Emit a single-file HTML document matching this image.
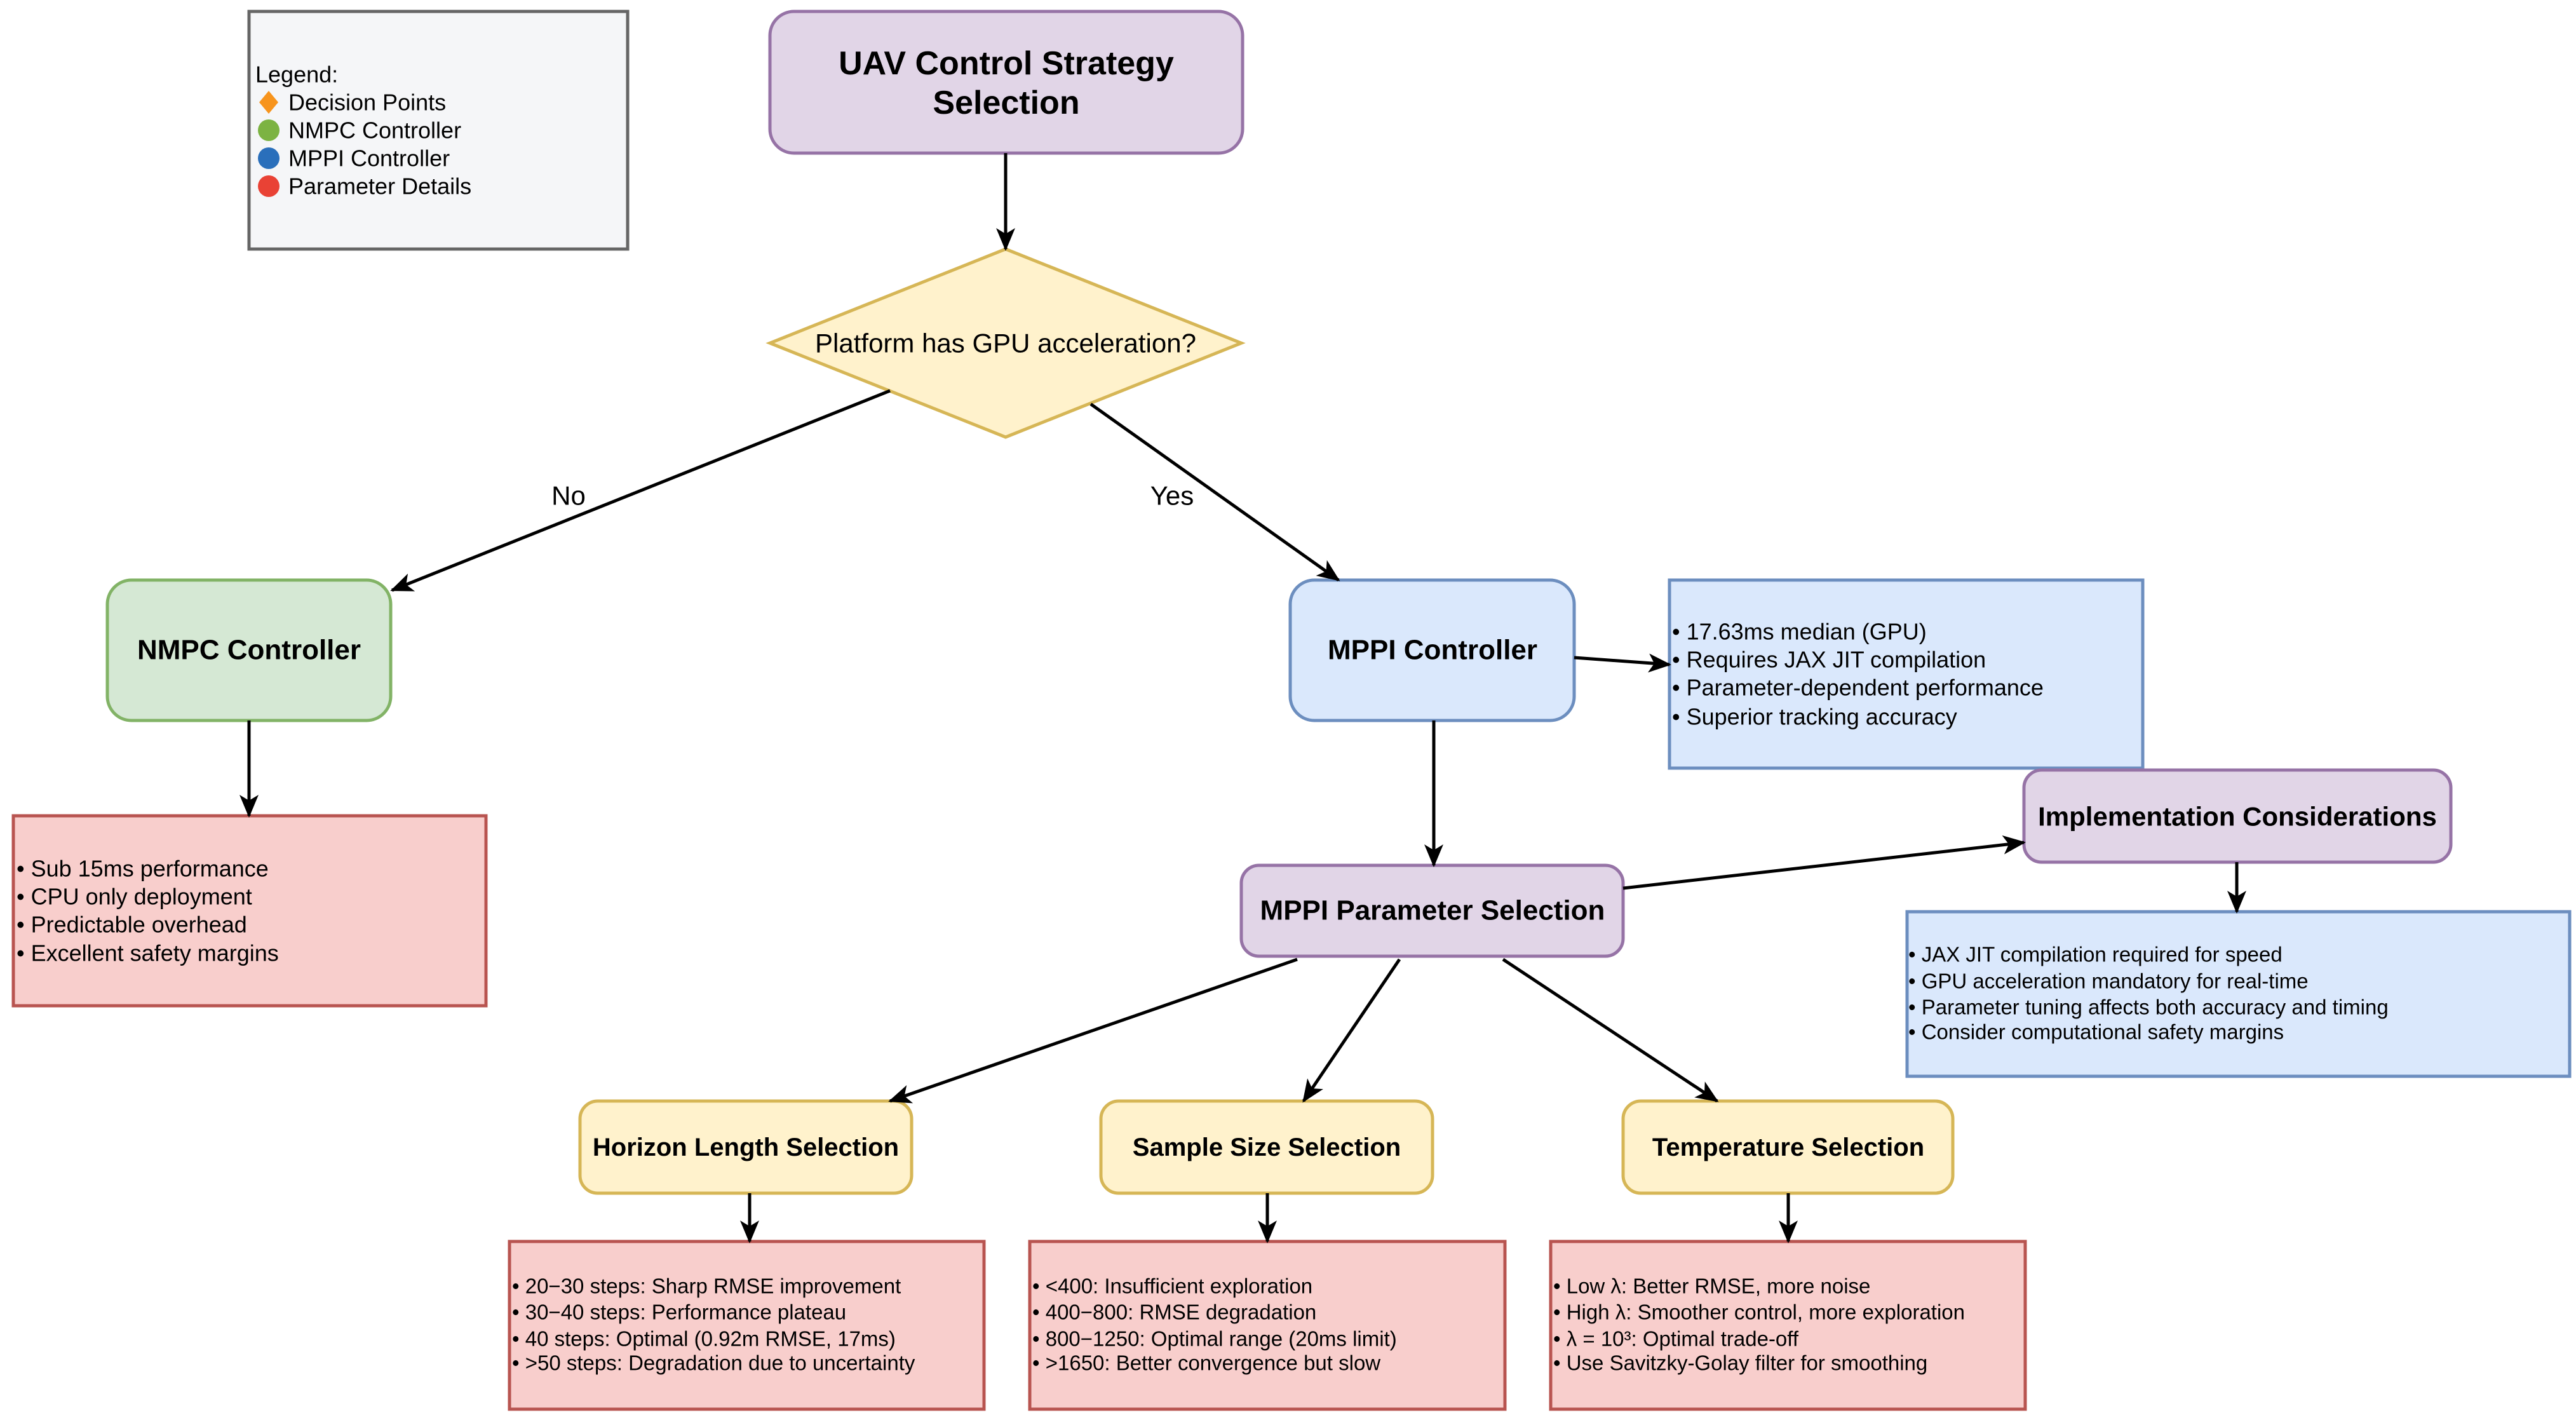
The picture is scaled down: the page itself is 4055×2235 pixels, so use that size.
<!DOCTYPE html>
<html><head><meta charset="utf-8"><style>body{margin:0;background:#fff}svg{display:block}text{font-family:"Liberation Sans",Arial,sans-serif}</style></head><body>
<svg width="4055" height="2235" viewBox="0 0 4055 2235" xmlns="http://www.w3.org/2000/svg">
<defs><marker id="a" markerWidth="12" markerHeight="10" refX="11" refY="5" orient="auto" markerUnits="userSpaceOnUse" viewBox="0 0 12 10"><path d="M0,0 L12,5 L0,10 L3,5 z" fill="#000"/></marker>
<marker id="b" viewBox="0 0 12 10" refX="11" refY="5" markerWidth="36" markerHeight="30" orient="auto" markerUnits="userSpaceOnUse"><path d="M0,0 L12,5 L0,10 L3,5 z" fill="#000"/></marker></defs>
<rect width="4055" height="2235" fill="#fff"/>
<!-- legend -->
<rect x="392" y="18" width="596" height="374" fill="#f5f6f8" stroke="#666" stroke-width="5"/>
<g font-size="36" dominant-baseline="central">
<text x="402" y="117">Legend:</text>
<path d="M423,143 L438,161 L423,179 L408,161 z" fill="#f7941d"/>
<circle cx="423" cy="205" r="17" fill="#7cb342"/>
<circle cx="423" cy="249" r="17" fill="#2a6fbb"/>
<circle cx="423" cy="293" r="17" fill="#e94235"/>
<text x="454" y="161">Decision Points</text>
<text x="454" y="205">NMPC Controller</text>
<text x="454" y="249">MPPI Controller</text>
<text x="454" y="293">Parameter Details</text>
</g>
<!-- nodes -->
<rect x="1212" y="18" width="744" height="223" rx="38" fill="#e1d5e7" stroke="#9673a6" stroke-width="5"/>
<text x="1584" y="100" font-size="52" font-weight="bold" text-anchor="middle" dominant-baseline="central">UAV Control Strategy</text>
<text x="1584" y="162" font-size="52" font-weight="bold" text-anchor="middle" dominant-baseline="central">Selection</text>
<path d="M1583,392 L1954,540 L1583,688 L1212,540 z" fill="#fff2cc" stroke="#d6b656" stroke-width="5"/>
<text x="1583" y="540" font-size="42" text-anchor="middle" dominant-baseline="central">Platform has GPU acceleration?</text>
<rect x="169" y="913" width="446" height="221" rx="38" fill="#d5e8d4" stroke="#82b366" stroke-width="5"/>
<text x="392" y="1023" font-size="44" font-weight="bold" text-anchor="middle" dominant-baseline="central">NMPC Controller</text>
<rect x="2031" y="913" width="447" height="221" rx="38" fill="#dae8fc" stroke="#6c8ebf" stroke-width="5"/>
<text x="2255" y="1023" font-size="44" font-weight="bold" text-anchor="middle" dominant-baseline="central">MPPI Controller</text>
<rect x="21" y="1284" width="744" height="299" fill="#f8cecc" stroke="#b85450" stroke-width="5"/>
<g font-size="36" dominant-baseline="central"><text x="26" y="1367">• Sub 15ms performance</text><text x="26" y="1411">• CPU only deployment</text><text x="26" y="1455">• Predictable overhead</text><text x="26" y="1500">• Excellent safety margins</text></g>
<rect x="2628" y="913" width="745" height="296" fill="#dae8fc" stroke="#6c8ebf" stroke-width="5"/>
<g font-size="36" dominant-baseline="central"><text x="2632" y="994">• 17.63ms median (GPU)</text><text x="2632" y="1038">• Requires JAX JIT compilation</text><text x="2632" y="1082">• Parameter-dependent performance</text><text x="2632" y="1128">• Superior tracking accuracy</text></g>
<rect x="3002" y="1435" width="1043" height="259" fill="#dae8fc" stroke="#6c8ebf" stroke-width="5"/>
<g font-size="33" dominant-baseline="central"><text x="3004" y="1502">• JAX JIT compilation required for speed</text><text x="3004" y="1544">• GPU acceleration mandatory for real-time</text><text x="3004" y="1585">• Parameter tuning affects both accuracy and timing</text><text x="3004" y="1624">• Consider computational safety margins</text></g>
<rect x="3186" y="1212" width="672" height="145" rx="28" fill="#e1d5e7" stroke="#9673a6" stroke-width="5"/>
<text x="3522" y="1285" font-size="42" font-weight="bold" text-anchor="middle" dominant-baseline="central">Implementation Considerations</text>
<rect x="1954" y="1362" width="601" height="143" rx="28" fill="#e1d5e7" stroke="#9673a6" stroke-width="5"/>
<text x="2255" y="1433" font-size="44" font-weight="bold" text-anchor="middle" dominant-baseline="central">MPPI Parameter Selection</text>
<g fill="#fff2cc" stroke="#d6b656" stroke-width="5">
<rect x="913" y="1733" width="522" height="145" rx="28"/><rect x="1733" y="1733" width="522" height="145" rx="28"/><rect x="2555" y="1733" width="519" height="145" rx="28"/></g>
<g font-size="40" font-weight="bold" text-anchor="middle" dominant-baseline="central"><text x="1174" y="1806">Horizon Length Selection</text><text x="1994" y="1806">Sample Size Selection</text><text x="2815" y="1806">Temperature Selection</text></g>
<g fill="#f8cecc" stroke="#b85450" stroke-width="5">
<rect x="802" y="1954" width="747" height="264"/><rect x="1621" y="1954" width="748" height="264"/><rect x="2441" y="1954" width="747" height="264"/></g>
<g font-size="33" dominant-baseline="central">
<text x="806" y="2024">• 20−30 steps: Sharp RMSE improvement</text><text x="806" y="2065">• 30−40 steps: Performance plateau</text><text x="806" y="2107">• 40 steps: Optimal (0.92m RMSE, 17ms)</text><text x="806" y="2145">• &gt;50 steps: Degradation due to uncertainty</text>
<text x="1625" y="2024">• &lt;400: Insufficient exploration</text><text x="1625" y="2065">• 400−800: RMSE degradation</text><text x="1625" y="2107">• 800−1250: Optimal range (20ms limit)</text><text x="1625" y="2145">• &gt;1650: Better convergence but slow</text>
<text x="2445" y="2024">• Low λ: Better RMSE, more noise</text><text x="2445" y="2065">• High λ: Smoother control, more exploration</text><text x="2445" y="2107">• λ = 10³: Optimal trade-off</text><text x="2445" y="2145">• Use Savitzky-Golay filter for smoothing</text>
</g>
<!-- edges -->
<g stroke="#000" stroke-width="5" fill="none" marker-end="url(#b)">
<line x1="1583" y1="241" x2="1583" y2="392"/>
<line x1="1401" y1="615" x2="617" y2="929"/>
<line x1="1717" y1="636" x2="2107" y2="913"/>
<line x1="392" y1="1134" x2="392" y2="1284"/>
<line x1="2478" y1="1035" x2="2628" y2="1046"/>
<line x1="2257" y1="1134" x2="2257" y2="1362"/>
<line x1="2555" y1="1398" x2="3186" y2="1326"/>
<line x1="3521" y1="1357" x2="3521" y2="1435"/>
<line x1="2042" y1="1510" x2="1401" y2="1733"/>
<line x1="2203" y1="1510" x2="2052" y2="1733"/>
<line x1="2366" y1="1510" x2="2703" y2="1733"/>
<line x1="1180" y1="1878" x2="1180" y2="1954"/>
<line x1="1995" y1="1878" x2="1995" y2="1954"/>
<line x1="2815" y1="1878" x2="2815" y2="1954"/>
</g>
<text x="895" y="780" font-size="42" text-anchor="middle" dominant-baseline="central">No</text>
<text x="1845" y="780" font-size="42" text-anchor="middle" dominant-baseline="central">Yes</text>
</svg>
</body></html>
